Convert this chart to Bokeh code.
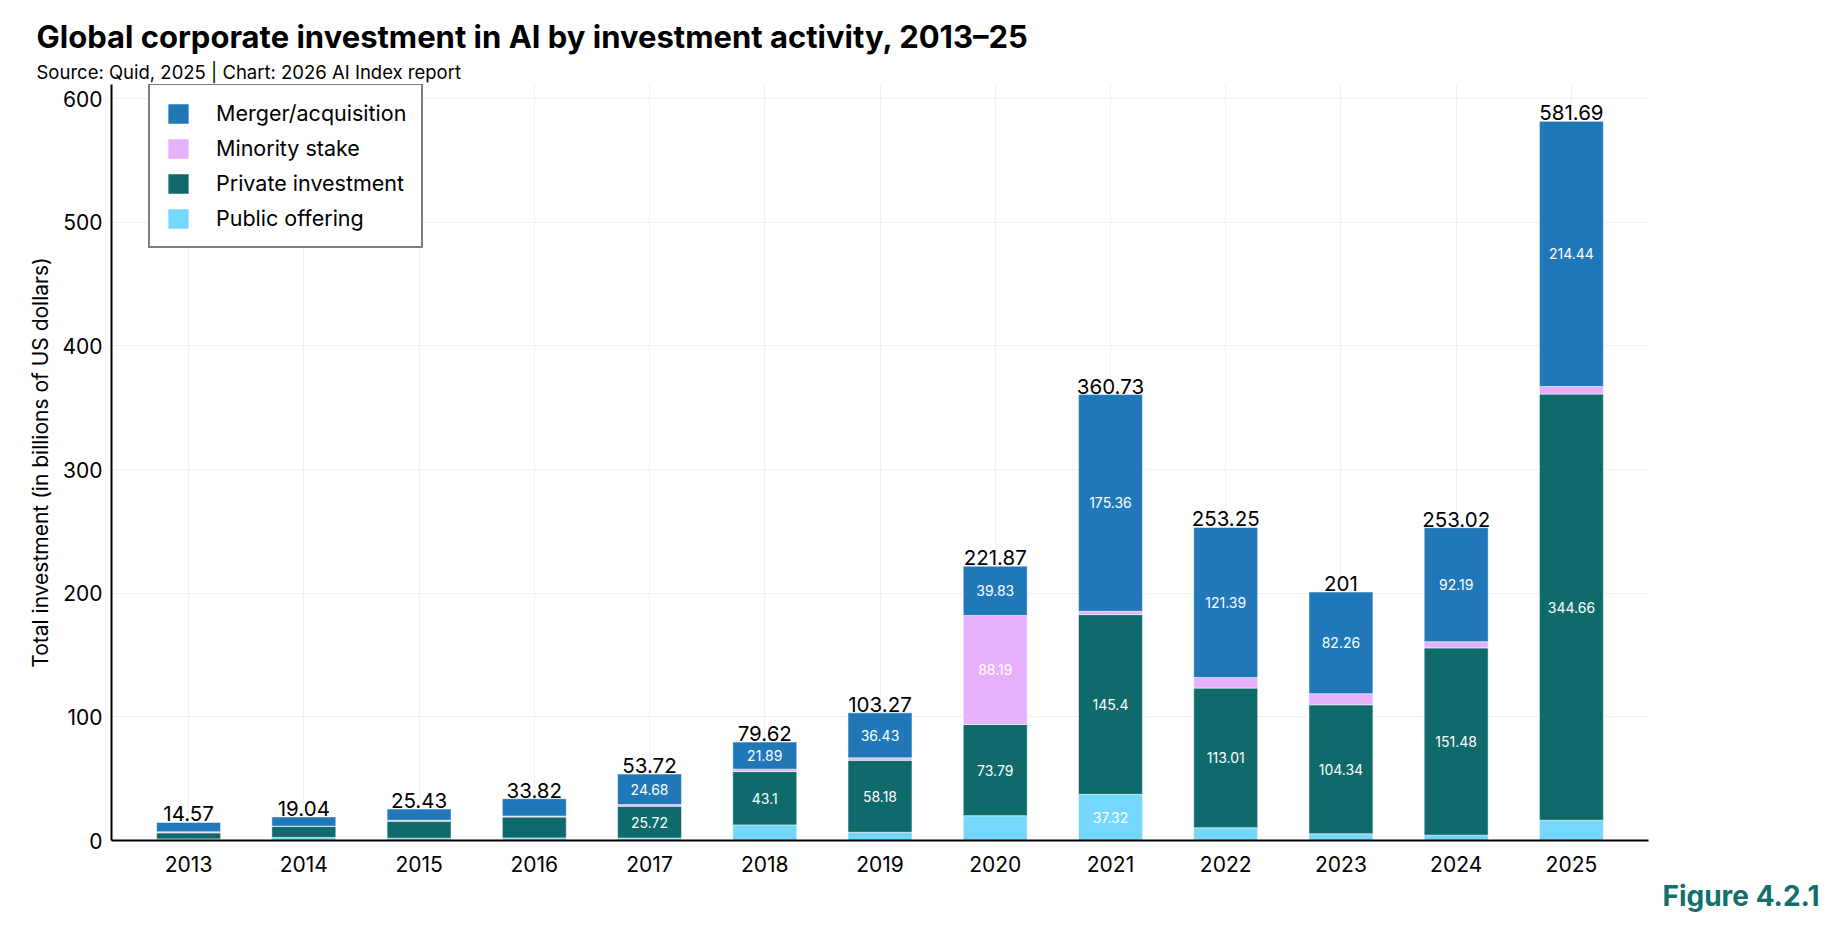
from bokeh.plotting import figure
from bokeh.models import ColumnDataSource, Legend, LegendItem, Title, FactorRange, Range1d, FixedTicker
from bokeh.embed import file_html
from bokeh.resources import INLINE
from bokeh.core.properties import value

years = ["2013", "2014", "2015", "2016", "2017", "2018", "2019",
         "2020", "2021", "2022", "2023", "2024", "2025"]
public_offering = [1.3, 2.5, 1.9, 2.1, 2.0, 12.63, 6.66, 20.06, 37.32, 10.25, 5.4, 4.3, 16.4]
private_investment = [4.9, 8.9, 13.7, 16.9, 25.72, 43.1, 58.18, 73.79, 145.4, 113.01, 104.34, 151.48, 344.66]
minority_stake = [0.9, 0.2, 0.8, 0.8, 1.32, 2.0, 2.0, 88.19, 2.65, 8.6, 9.0, 5.05, 6.19]
merger_acquisition = [7.47, 7.44, 9.03, 14.02, 24.68, 21.89, 36.43, 39.83, 175.36, 121.39, 82.26, 92.19, 214.44]
totals = [14.57, 19.04, 25.43, 33.82, 53.72, 79.62, 103.27, 221.87, 360.73, 253.25, 201, 253.02, 581.69]

# which segments carry a value label inside the bar
public_shown = [y == "2021" for y in years]
private_shown = [int(y) >= 2017 for y in years]
minority_shown = [y == "2020" for y in years]
merger_shown = [int(y) >= 2017 for y in years]

series = ["public", "private", "minority", "merger"]
names = ["Public offering", "Private investment", "Minority stake", "Merger/acquisition"]
colors = ["#74d7fc", "#0f6b6b", "#e7b0fa", "#2178b8"]
FONT = "Inter"

data = {"year": years, "public": public_offering, "private": private_investment,
        "minority": minority_stake, "merger": merger_acquisition}
source = ColumnDataSource(data)

p = figure(x_range=FactorRange(factors=years, range_padding=0.026),
           y_range=Range1d(0, 611.5),
           width=1830, height=918,
           min_border_left=111, min_border_right=182, min_border_top=84, min_border_bottom=71,
           output_backend="svg", toolbar_location=None)

# main title on top, subtitle (added later) sits next to the frame
p.title.text = "Global corporate investment in AI by investment activity, 2013\u201325"
p.title.text_font = FONT
p.title.text_font_size = "31px"
p.title.text_font_style = "bold"
p.title.text_color = "black"
p.title.align = "left"
p.title.offset = -75
p.title.standoff = 4
p.add_layout(Title(text="Source: Quid, 2025 | Chart: 2026 AI Index report",
                   text_font=FONT, text_font_size="18.5px", text_font_style="normal",
                   text_color="black", align="left", offset=-75, standoff=4), "above")
p.add_layout(Title(text="Figure 4.2.1", text_font=FONT, text_font_size="28px",
                   text_font_style="bold", text_color="#136e6e",
                   align="right", offset=-171, vertical_align="top", standoff=8), "below")

renderers = p.vbar_stack(series, x="year", width=0.555, color=colors, source=source,
                         line_color="white", line_width=1, line_alpha=0.5)

# inner value labels
bottom = [0.0] * len(years)
for vals, shown in [(public_offering, public_shown), (private_investment, private_shown),
                    (minority_stake, minority_shown), (merger_acquisition, merger_shown)]:
    mids = [b + v / 2 for b, v in zip(bottom, vals)]
    txt = [f"{v:g}" if s else "" for v, s in zip(vals, shown)]
    p.text(x=years, y=mids, text=txt, text_color="white", text_font=value(FONT),
           text_font_size="14px", text_align="center", text_baseline="middle")
    bottom = [b + v for b, v in zip(bottom, vals)]

# totals above bars
p.text(x=years, y=totals, text=[f"{t:g}" for t in totals], text_color="black",
       text_font=value(FONT), text_font_size="20.5px", text_align="center",
       text_baseline="bottom", y_offset=-1)

items = [LegendItem(label=n, renderers=[r]) for n, r in zip(names, renderers)][::-1]
legend = Legend(items=items, location=(37, 592), border_line_color="black", border_line_width=2,
                label_text_font=FONT, label_text_font_size="21.5px", label_text_color="black",
                glyph_width=26, glyph_height=25, label_height=25, spacing=9, padding=15,
                label_standoff=25, margin=0)
p.add_layout(legend, "center")

p.outline_line_color = None
p.xgrid.grid_line_color = "#f0f0f0"
p.ygrid.grid_line_color = "#f0f0f0"
p.yaxis.ticker = FixedTicker(ticks=[0, 100, 200, 300, 400, 500, 600])
for ax in (p.xaxis, p.yaxis):
    ax.axis_line_color = "black"
    ax.axis_line_width = 2
    ax.major_tick_line_color = None
    ax.minor_tick_line_color = None
    ax.major_label_text_font = FONT
    ax.major_label_text_font_size = "21px"
    ax.major_label_text_color = "black"
p.yaxis.major_label_standoff = 3
p.xaxis.major_label_standoff = 9
p.yaxis.axis_label = "Total investment (in billions of US dollars)"
p.yaxis.axis_label_text_font = FONT
p.yaxis.axis_label_text_font_size = "21px"
p.yaxis.axis_label_text_font_style = "normal"
p.yaxis.axis_label_text_color = "black"
p.yaxis.axis_label_standoff = 6

open("out.html", "w").write(file_html(p, INLINE))
